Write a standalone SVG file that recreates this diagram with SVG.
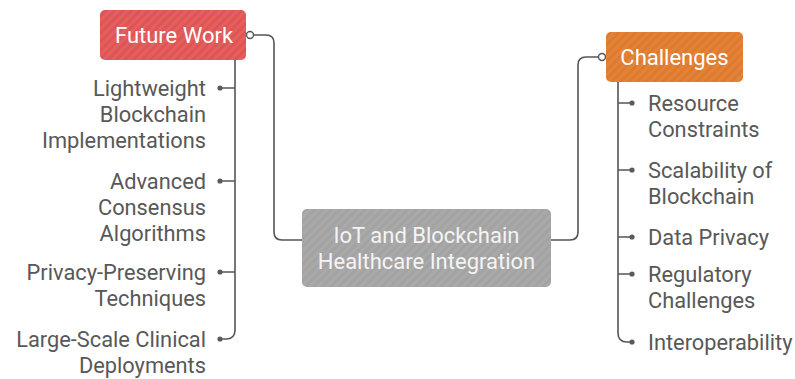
<svg xmlns="http://www.w3.org/2000/svg" width="795" height="379" viewBox="0 0 795 379">
  <defs>
    <pattern id="stripes" width="6" height="6" patternUnits="userSpaceOnUse" patternTransform="rotate(45)">
      <rect width="3" height="6" fill="#ffffff" fill-opacity="0.07"/>
    </pattern>
  </defs>
  <style>
    .box-text { font-family: Roboto, "Liberation Sans", sans-serif; font-size: 22px; fill: #ffffff; }
    .center-text { font-family: Roboto, "Liberation Sans", sans-serif; font-size: 22px; fill: #f4f4f4; text-anchor: middle; }
    .item { font-family: Roboto, "Liberation Sans", sans-serif; font-size: 21.8px; fill: #585858; }
    .left { text-anchor: end; }
    .wire { fill: none; stroke: #555555; stroke-width: 1.6; }
    .dot { fill: #5a5a5a; }
    .port { fill: #ffffff; stroke: #555555; stroke-width: 1.4; }
  </style>
  <rect width="795" height="379" fill="#ffffff"/>

  <!-- connectors -->
  <g id="connectors">
    <!-- Future Work to center -->
    <path class="wire" d="M253,35 H266 Q274,35 274,43 V232 Q274,240 282,240 H302"/>
    <!-- center to Challenges -->
    <path class="wire" d="M551,240 H570 Q578,240 578,232 V65 Q578,57 586,57 H599"/>
    <!-- Future Work branch -->
    <path class="wire" d="M235,60 V330 Q235,339 226,339 H220"/>
    <path class="wire" d="M220,88 H235 M220,181 H235 M220,272 H235"/>
    <!-- Challenges branch -->
    <path class="wire" d="M618,82 V333 Q618,342 627,342 H632"/>
    <path class="wire" d="M618,103 H632 M618,170 H632 M618,237 H632 M618,274 H632"/>
    <circle class="dot" cx="220" cy="88" r="2.6"/>
    <circle class="dot" cx="220" cy="181" r="2.6"/>
    <circle class="dot" cx="220" cy="272" r="2.6"/>
    <circle class="dot" cx="220" cy="339" r="2.6"/>
    <circle class="dot" cx="632" cy="103" r="2.6"/>
    <circle class="dot" cx="632" cy="170" r="2.6"/>
    <circle class="dot" cx="632" cy="237" r="2.6"/>
    <circle class="dot" cx="632" cy="274" r="2.6"/>
    <circle class="dot" cx="632" cy="342" r="2.6"/>
    <circle class="port" cx="250" cy="35" r="3.5"/>
    <circle class="port" cx="602" cy="57" r="3.5"/>
  </g>

  <!-- Future Work -->
  <g id="future-work">
    <rect x="100" y="10" width="146" height="50" rx="5" fill="#e05454"/>
    <rect x="100" y="10" width="146" height="50" rx="5" fill="url(#stripes)"/>
    <text class="box-text" x="174" y="43" text-anchor="middle">Future Work</text>
  </g>

  <!-- Challenges -->
  <g id="challenges">
    <rect x="606" y="32" width="137" height="50" rx="5" fill="#e07a2c"/>
    <rect x="606" y="32" width="137" height="50" rx="5" fill="url(#stripes)"/>
    <text class="box-text" x="674.5" y="65" text-anchor="middle">Challenges</text>
  </g>

  <!-- Center topic -->
  <g id="center">
    <rect x="302" y="209" width="249" height="78" rx="5" fill="#a3a3a3"/>
    <rect x="302" y="209" width="249" height="78" rx="5" fill="url(#stripes)"/>
    <text class="center-text" x="426.5" y="243">IoT and Blockchain</text>
    <text class="center-text" x="426.5" y="269">Healthcare Integration</text>
  </g>

  <!-- Future Work items -->
  <g id="fw-lightweight">
    <text class="item left" x="206" y="96">Lightweight</text>
    <text class="item left" x="206" y="122">Blockchain</text>
    <text class="item left" x="206" y="148">Implementations</text>
  </g>
  <g id="fw-consensus">
    <text class="item left" x="206" y="189">Advanced</text>
    <text class="item left" x="206" y="215">Consensus</text>
    <text class="item left" x="206" y="241">Algorithms</text>
  </g>
  <g id="fw-privacy">
    <text class="item left" x="206" y="280">Privacy-Preserving</text>
    <text class="item left" x="206" y="306">Techniques</text>
  </g>
  <g id="fw-clinical">
    <text class="item left" x="206" y="347">Large-Scale Clinical</text>
    <text class="item left" x="206" y="373">Deployments</text>
  </g>

  <!-- Challenges items -->
  <g id="ch-resource">
    <text class="item" x="648" y="111">Resource</text>
    <text class="item" x="648" y="137">Constraints</text>
  </g>
  <g id="ch-scalability">
    <text class="item" x="648" y="178">Scalability of</text>
    <text class="item" x="648" y="204">Blockchain</text>
  </g>
  <g id="ch-privacy">
    <text class="item" x="648" y="245">Data Privacy</text>
  </g>
  <g id="ch-regulatory">
    <text class="item" x="648" y="282">Regulatory</text>
    <text class="item" x="648" y="308">Challenges</text>
  </g>
  <g id="ch-interop">
    <text class="item" x="648" y="350">Interoperability</text>
  </g>
</svg>
